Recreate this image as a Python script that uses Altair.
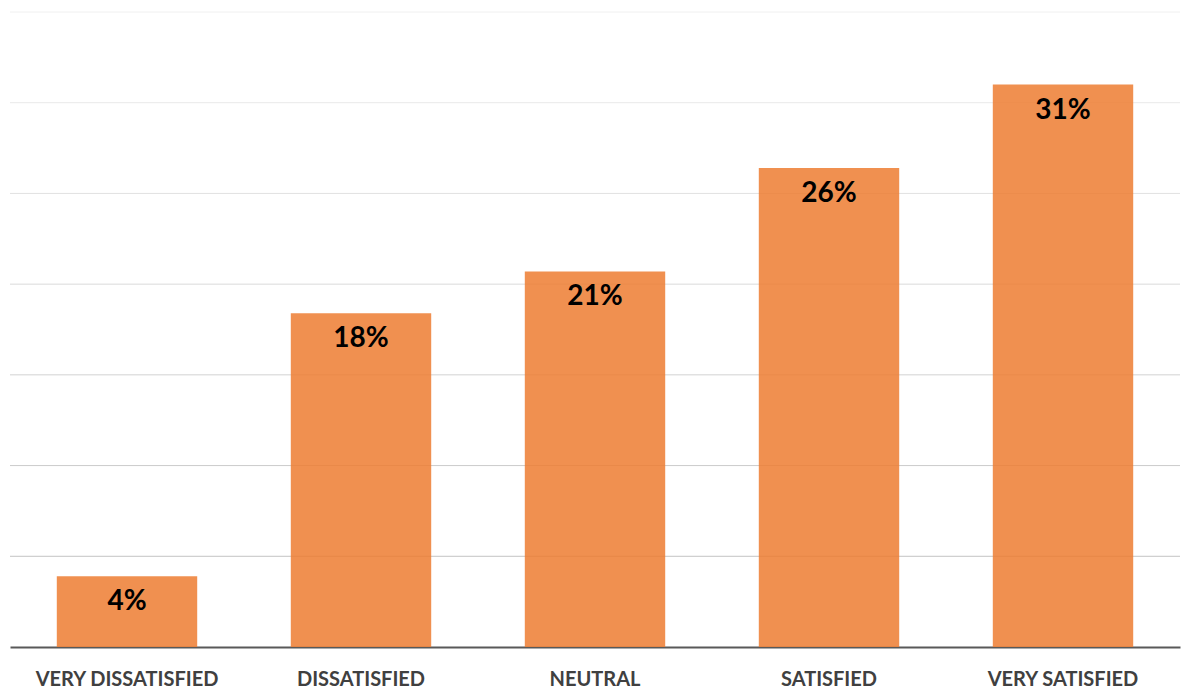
import altair as alt
import pandas as pd

categories = ["VERY DISSATISFIED", "DISSATISFIED", "NEUTRAL", "SATISFIED", "VERY SATISFIED"]
values = [3.9, 18.4, 20.7, 26.4, 31.0]
labels = ["4%", "18%", "21%", "26%", "31%"]
grid_values = [5, 10, 15, 20, 25, 30, 35]

df = pd.DataFrame({"cat": categories, "val": values, "lab": labels})
gdf = pd.DataFrame({"g": grid_values})

FONT = "Lato"

x_enc = alt.X("cat:N", sort=categories, title=None,
              scale=alt.Scale(paddingInner=0.4, paddingOuter=0.2),
              axis=alt.Axis(labelAngle=0, labelFont=FONT, labelFontSize=20, labelFontWeight="bold",
                            labelColor="#404040", labelPadding=22, ticks=False, labelLimit=0,
                            domainColor="#595959", domainWidth=2))
y_scale = alt.Scale(domain=[0, 35], nice=False)

grid = alt.Chart(gdf).mark_rule(strokeWidth=1).encode(
    y=alt.Y("g:Q", scale=y_scale, axis=None),
    color=alt.Color("g:Q", scale=alt.Scale(domain=[5, 35], range=["#c4c4c4", "#f0f0f0"]), legend=None),
)

bars = alt.Chart(df).mark_bar(color="#ED7D31", opacity=0.85).encode(
    x=x_enc,
    y=alt.Y("val:Q", scale=y_scale, axis=None),
)

text = alt.Chart(df).mark_text(font=FONT, fontSize=28, fontWeight="bold", color="#000000",
                               baseline="middle", dy=26).encode(
    x=alt.X("cat:N", sort=categories),
    y=alt.Y("val:Q", scale=y_scale),
    text="lab:N",
)

chart = alt.layer(grid, bars, text).properties(
    width=1170, height=635,
    padding={"left": 10, "top": 12, "right": 1, "bottom": 44},
    autosize=alt.AutoSizeParams(type="none"),
).configure(background="white").configure_view(stroke=None)

chart.save("out.html", embed_options={"renderer": "svg", "actions": False})
